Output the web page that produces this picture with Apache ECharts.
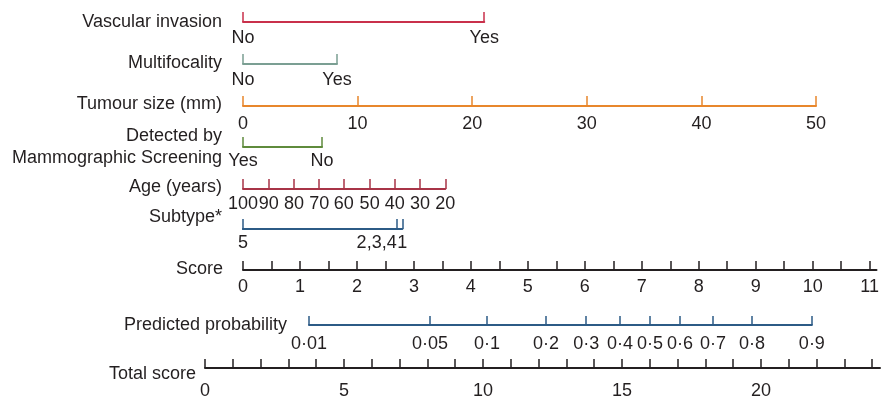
<!DOCTYPE html>
<html>
<head>
<meta charset="utf-8">
<script src="https://cdn.jsdelivr.net/npm/echarts@6/dist/echarts.min.js"></script>
<style>
html,body{margin:0;padding:0;background:#fff;}
#chart{width:882px;height:400px;}
</style>
</head>
<body>
<div id="chart"></div>
<script>
// ---- Data (points on the 0-10 score scale) ----
const vascularLabels = ['No', 'Yes'];
const vascularPoints = [0, 4.21];

const multifocalLabels = ['No', 'Yes'];
const multifocalPoints = [0, 1.64];

const tumourLabels = ['0', '10', '20', '30', '40', '50'];
const tumourPoints = [0, 2, 4, 6, 8, 10];

const screeningLabels = ['Yes', 'No'];
const screeningPoints = [0, 1.38];

const ageLabels = ['100', '90', '80', '70', '60', '50', '40', '30', '20'];
const agePoints = [0, 0.45, 0.89, 1.33, 1.76, 2.21, 2.65, 3.09, 3.53];

const subtypeLabels = ['5', '2,3,4', '1'];
const subtypePoints = [0, 2.69, 2.78];

const scoreLabelValues = [0, 1, 2, 3, 4, 5, 6, 7, 8, 9, 10, 11];
const scoreTickValues = [0, 0.5, 1, 1.5, 2, 2.5, 3, 3.5, 4, 4.5, 5, 5.5, 6, 6.5, 7, 7.5, 8, 8.5, 9, 9.5, 10, 10.5, 11];
const scoreMax = 11.12;

const probLabels = ['0·01', '0·05', '0·1', '0·2', '0·3', '0·4', '0·5', '0·6', '0·7', '0·8', '0·9'];
const probTotals = [3.74, 8.09, 10.14, 12.27, 13.71, 14.93, 16.01, 17.09, 18.27, 19.68, 21.83];

const totalLabelValues = [0, 5, 10, 15, 20];
const totalTickValues = [0, 1, 2, 3, 4, 5, 6, 7, 8, 9, 10, 11, 12, 13, 14, 15, 16, 17, 18, 19, 20, 21, 22, 23, 24];
const totalMax = 24.28;

// ---- Layout / style ----
const FONT = 'Liberation Sans, Arial, sans-serif';
const FS = 18;
const TEXT = '#231f20';
const pxPerPoint = 57.3;
const pointsLeft = 243;
const pxPerTotal = 27.8;
const totalLeft = 205;

const grids = [], xAxes = [], yAxes = [], series = [];

function nearestLabel(points, labels) {
  return function (v) {
    let best = 0;
    for (let i = 0; i < points.length; i++) if (Math.abs(points[i] - v) < Math.abs(points[best] - v)) best = i;
    return labels[best];
  };
}

// shift: px the name's centre sits above (+) / below (-) the axis line
function nameStyle(shift) {
  const s = { fontFamily: FONT, fontSize: FS, color: TEXT, align: 'right' };
  if (shift > 0) { s.verticalAlign = 'bottom'; s.lineHeight = 2 * shift; }
  else if (shift < 0) { s.verticalAlign = 'top'; s.lineHeight = -2 * shift; }
  else { s.verticalAlign = 'middle'; s.lineHeight = 22; }
  return s;
}

function addRow(o) {
  const idx = grids.length;
  const h = 14;
  grids.push({ left: o.left, top: o.lineY - h, width: o.width, height: h, containLabel: false });
  yAxes.push({ gridIndex: idx, type: 'value', show: false, min: 0, max: 1 });
  xAxes.push({
    gridIndex: idx,
    type: 'value',
    position: 'bottom',
    min: o.min,
    max: o.max,
    name: o.name || '',
    nameLocation: 'start',
    nameGap: o.nameGap || 0,
    nameTextStyle: o.nameTextStyle || nameStyle(0),
    splitLine: { show: false },
    axisLine: { show: true, onZero: false, lineStyle: { color: o.color, width: 2 } },
    axisTick: { show: true, inside: true, length: o.tickLen || 10, customValues: o.ticks, lineStyle: { color: o.color, width: 1.5 } },
    axisLabel: {
      show: true, customValues: o.labelValues, formatter: o.formatter, margin: o.margin,
      fontFamily: FONT, fontSize: FS, color: TEXT,
      showMinLabel: true, showMaxLabel: true, hideOverlap: false,
      rich: o.rich
    }
  });
  series.push({ type: 'line', xAxisIndex: idx, yAxisIndex: idx, data: [], silent: true });
}

function catRow(name, labels, points, color, lineY, margin, shift, extra) {
  const maxP = Math.max.apply(null, points);
  addRow(Object.assign({
    name: name,
    left: pointsLeft,
    width: maxP * pxPerPoint,
    min: 0, max: maxP,
    lineY: lineY,
    color: color,
    ticks: points,
    labelValues: points,
    margin: margin,
    nameGap: 21,
    nameTextStyle: nameStyle(shift),
    formatter: nearestLabel(points, labels)
  }, extra || {}));
}

catRow('Vascular invasion', vascularLabels, vascularPoints, '#c9304b', 22, 7, 0);
catRow('Multifocality', multifocalLabels, multifocalPoints, '#7b9f93', 64, 7, 1);
catRow('Tumour size (mm)', tumourLabels, tumourPoints, '#e8872c', 106, 9.5, 2);
catRow('Detected by\nMammographic Screening', screeningLabels, screeningPoints, '#5f8b3c', 147, 5.5, 0);
catRow('Age (years)', ageLabels, agePoints, '#a83447', 189, 6.5, 2);

// Subtype: outer categories on one axis, the close middle category on an overlaid axis
const subtypeColor = '#2c5b86';
const subOuterPts = [subtypePoints[0], subtypePoints[2]];
const subOuterLbl = [subtypeLabels[0], subtypeLabels[2]];
catRow('Subtype*', subOuterLbl, subOuterPts, subtypeColor, 229, 5.5, 12);
addRow({
  left: pointsLeft, width: subtypePoints[1] * pxPerPoint, min: 0, max: subtypePoints[1],
  lineY: 229, color: subtypeColor, ticks: [subtypePoints[1]], labelValues: [subtypePoints[1]],
  margin: 5.5,
  formatter: function () { return '{l|' + subtypeLabels[1] + '}'; },
  rich: { l: { fontFamily: FONT, fontSize: FS, color: TEXT, padding: [0, 41, 0, 0] } }
});

// Score axis
addRow({
  name: 'Score', left: pointsLeft, width: scoreMax * pxPerPoint, min: 0, max: scoreMax,
  lineY: 270, color: '#231f20', ticks: scoreTickValues, labelValues: scoreLabelValues,
  tickLen: 9, margin: 8.5, nameGap: 20, nameTextStyle: nameStyle(1),
  formatter: function (v) { return String(Math.round(v)); }
});

// Predicted probability axis (positions on total score scale)
addRow({
  name: 'Predicted probability',
  left: totalLeft + probTotals[0] * pxPerTotal,
  width: (probTotals[probTotals.length - 1] - probTotals[0]) * pxPerTotal,
  min: probTotals[0], max: probTotals[probTotals.length - 1],
  lineY: 325, color: '#2c5b86', ticks: probTotals, labelValues: probTotals,
  tickLen: 9, margin: 10.5, nameGap: 19, nameTextStyle: nameStyle(0),
  formatter: nearestLabel(probTotals, probLabels)
});

// Total score axis
addRow({
  name: 'Total score', left: totalLeft, width: totalMax * pxPerTotal, min: 0, max: totalMax,
  lineY: 373, color: '#231f20', ticks: totalTickValues, labelValues: totalLabelValues,
  tickLen: 9, margin: 14, nameGap: 2, nameTextStyle: nameStyle(-6),
  formatter: function (v) { return String(Math.round(v)); }
});

const chart = echarts.init(document.getElementById('chart'), null, { renderer: 'canvas' });
chart.setOption({
  animation: false,
  backgroundColor: '#ffffff',
  grid: grids,
  xAxis: xAxes,
  yAxis: yAxes,
  series: series
});
</script>
</body>
</html>
